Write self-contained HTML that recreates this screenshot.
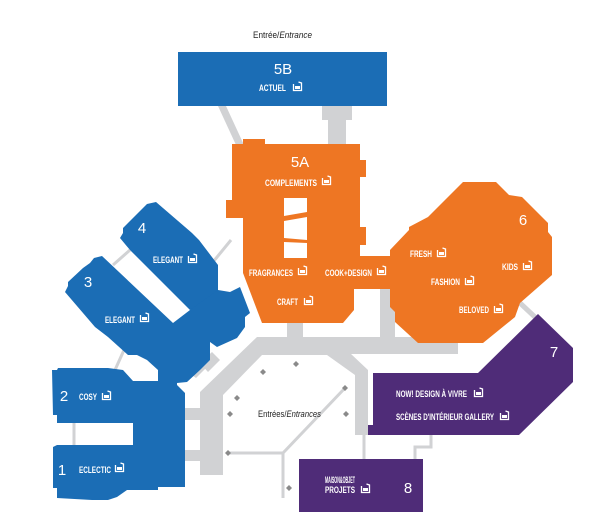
<!DOCTYPE html>
<html><head><meta charset="utf-8"><style>
html,body{margin:0;padding:0;background:#fff;}
svg{display:block;}
.l{font-family:"Liberation Sans",sans-serif;font-weight:bold;fill:#fff;font-size:9px;}
.n{font-family:"Liberation Sans",sans-serif;fill:#fff;font-size:15px;}
.e{font-family:"Liberation Sans",sans-serif;fill:#222;font-size:9px;}
</style></head><body>
<svg width="615" height="527" viewBox="0 0 615 527" xmlns="http://www.w3.org/2000/svg">
<defs>
<g id="ic"><path d="M0.5,2 v6.5 h8 v-7.5 l-3,-1" fill="none" stroke="#fff" stroke-width="1.3"/><rect x="2" y="4" width="5" height="3" fill="#fff"/></g>
<polygon id="ar" points="-3,0 0,-3 3,0 0,3" fill="#8a8a8a"/>
</defs>
<g fill="#d1d2d4" stroke="none">
<polygon points="218,106 226,106 244,145 236,145"/>
<rect x="322" y="106" width="30" height="14"/><rect x="328" y="120" width="18" height="26"/>
<polygon points="200,392 257,337 333,337 368,370 368,435 355,435 355,375 327,355 262,355 223,395 223,475 200,475"/>
<rect x="330" y="337" width="128" height="17"/>
<rect x="287" y="320" width="16" height="20"/>
<rect x="380" y="288" width="15" height="52"/>
<rect x="185" y="408" width="17" height="12"/><rect x="185" y="450" width="17" height="11"/>
<polygon points="200,363 212,352 220,360 208,372"/>
<polygon points="188,372 200,360 207,367 196,378"/>
</g>
<g stroke="#d1d2d4" stroke-width="3" fill="none">
<line x1="283" y1="453" x2="345" y2="388"/><line x1="228" y1="453" x2="283" y2="453"/><line x1="283" y1="453" x2="283" y2="498"/>
<line x1="364" y1="435" x2="364" y2="460"/>
<polyline points="431,435 431,447 415,447 415,460"/>
<line x1="520" y1="303" x2="536" y2="318" stroke-width="5"/>
<line x1="213" y1="262" x2="231" y2="240"/>
<line x1="115" y1="370" x2="124" y2="350"/>
<line x1="74" y1="423" x2="74" y2="446"/>
<line x1="113" y1="265" x2="130" y2="250"/>
</g>
<rect x="178" y="52" width="209" height="54" fill="#1b6db5"/>
<!-- arm 4 -->
<polygon fill="#1b6db5" points="120,238 123,233 123,228 147,204 156,202 192,233 199,240 218,265 218,300 190,310 130,250"/>
<!-- arm 3 + body -->
<polygon fill="#1b6db5" points="65,292 68,286 68,282 83,268 90,263 94,258 102,256 173,323 190,310 218,290 230,292 240,287 250,313 245,317 245,327 237,338 217,347 210,342 210,360 200,370 187,382 177,383 158,383 158,370 147,360 137,355 128,355 108,337 95,327"/>
<polygon fill="#1b6db5" points="52,370 57,370 58,368 108,368 123,370 133,381 177,381 177,385 185,393 185,487 158,487 158,490 127,490 117,497 108,500 92,500 57,498 57,488 53,488 53,447 57,445 133,445 133,423 57,423 57,415 53,415"/>
<polygon fill="#ee7623" points="232,144 243,144 243,139 265,139 265,144 360,144 360,160 366,160 366,177 360,177 360,227 366,227 366,245 360,245 360,256 392,256 392,289 354,289 354,310 343,323 262,323 243,273 243,218 226,218 226,200 232,200"/>
<polygon fill="#fff" points="284,198 307,198 307,212 284,216"/>
<polygon fill="#fff" points="284,221 307,217 307,240 284,238"/>
<polygon fill="#fff" points="284,242 307,243 307,258 284,258"/>
<polygon fill="#ee7623" points="463,182 496,182 509,195 522,197 548,223 548,232 552,237 552,275 520,303 515,317 483,343 418,343 395,322 395,312 390,307 390,250 409,230 409,227 428,217 445,200"/>
<polygon fill="#4f2c78" points="538,314 573,348 573,382 519,435 368,435 368,425 373,425 373,373 478,373"/>
<rect x="299" y="459" width="124" height="53" fill="#4f2c78"/>
<use href="#ar" x="296" y="364"/><use href="#ar" x="263" y="372"/><use href="#ar" x="237" y="398"/>
<use href="#ar" x="230" y="414"/><use href="#ar" x="346" y="414"/><use href="#ar" x="345" y="388"/>
<use href="#ar" x="228" y="453"/><use href="#ar" x="289" y="488"/>
<g lengthAdjust="spacingAndGlyphs">
<text x="253" y="38" class="e" textLength="59" lengthAdjust="spacingAndGlyphs">Entrée/<tspan font-style="italic">Entrance</tspan></text>
<text x="258" y="417" class="e" textLength="63" lengthAdjust="spacingAndGlyphs">Entrées/<tspan font-style="italic">Entrances</tspan></text>
<text x="283" y="74" class="n" text-anchor="middle">5B</text>
<text x="259" y="91" class="l" textLength="27" lengthAdjust="spacingAndGlyphs">ACTUEL</text><use href="#ic" x="293" y="82"/>
<text x="300" y="167" class="n" text-anchor="middle">5A</text>
<text x="265" y="186" class="l" textLength="52" lengthAdjust="spacingAndGlyphs">COMPLEMENTS</text><use href="#ic" x="322" y="176"/>
<text x="249" y="276" class="l" textLength="44" lengthAdjust="spacingAndGlyphs">FRAGRANCES</text><use href="#ic" x="298" y="266"/>
<text x="325" y="276" class="l" textLength="47" lengthAdjust="spacingAndGlyphs">COOK+DESIGN</text><use href="#ic" x="377" y="266"/>
<text x="277" y="305" class="l" textLength="21" lengthAdjust="spacingAndGlyphs">CRAFT</text><use href="#ic" x="304" y="296"/>
<text x="523" y="225" class="n" text-anchor="middle">6</text>
<text x="410" y="257" class="l" textLength="22" lengthAdjust="spacingAndGlyphs">FRESH</text><use href="#ic" x="437" y="248"/>
<text x="502" y="270" class="l" textLength="16" lengthAdjust="spacingAndGlyphs">KIDS</text><use href="#ic" x="523" y="261"/>
<text x="431" y="285" class="l" textLength="29" lengthAdjust="spacingAndGlyphs">FASHION</text><use href="#ic" x="465" y="276"/>
<text x="459" y="313" class="l" textLength="30" lengthAdjust="spacingAndGlyphs">BELOVED</text><use href="#ic" x="494" y="304"/>
<text x="554" y="357" class="n" text-anchor="middle">7</text>
<text x="396" y="397" class="l" textLength="71" lengthAdjust="spacingAndGlyphs">NOW! DESIGN À VIVRE</text><use href="#ic" x="474" y="388"/>
<text x="396" y="420" class="l" textLength="98" lengthAdjust="spacingAndGlyphs">SCÈNES D'INTÉRIEUR GALLERY</text><use href="#ic" x="500" y="411"/>
<text x="408" y="493" class="n" text-anchor="middle">8</text>
<text x="325" y="483" class="l" font-size="4" textLength="30" lengthAdjust="spacingAndGlyphs">MAISON&amp;OBJET</text>
<text x="325" y="493" class="l" textLength="30" lengthAdjust="spacingAndGlyphs">PROJETS</text><use href="#ic" x="361" y="484"/>
<text x="142" y="233" class="n" text-anchor="middle">4</text>
<text x="153" y="263" class="l" textLength="30" lengthAdjust="spacingAndGlyphs">ELEGANT</text><use href="#ic" x="188" y="254"/>
<text x="88" y="287" class="n" text-anchor="middle">3</text>
<text x="105" y="323" class="l" textLength="30" lengthAdjust="spacingAndGlyphs">ELEGANT</text><use href="#ic" x="140" y="313"/>
<text x="64" y="401" class="n" text-anchor="middle">2</text>
<text x="79" y="400" class="l" textLength="18" lengthAdjust="spacingAndGlyphs">COSY</text><use href="#ic" x="102" y="391"/>
<text x="62" y="475" class="n" text-anchor="middle">1</text>
<text x="79" y="473" class="l" textLength="32" lengthAdjust="spacingAndGlyphs">ECLECTIC</text><use href="#ic" x="115" y="463"/>
</g>
</svg>
</body></html>
